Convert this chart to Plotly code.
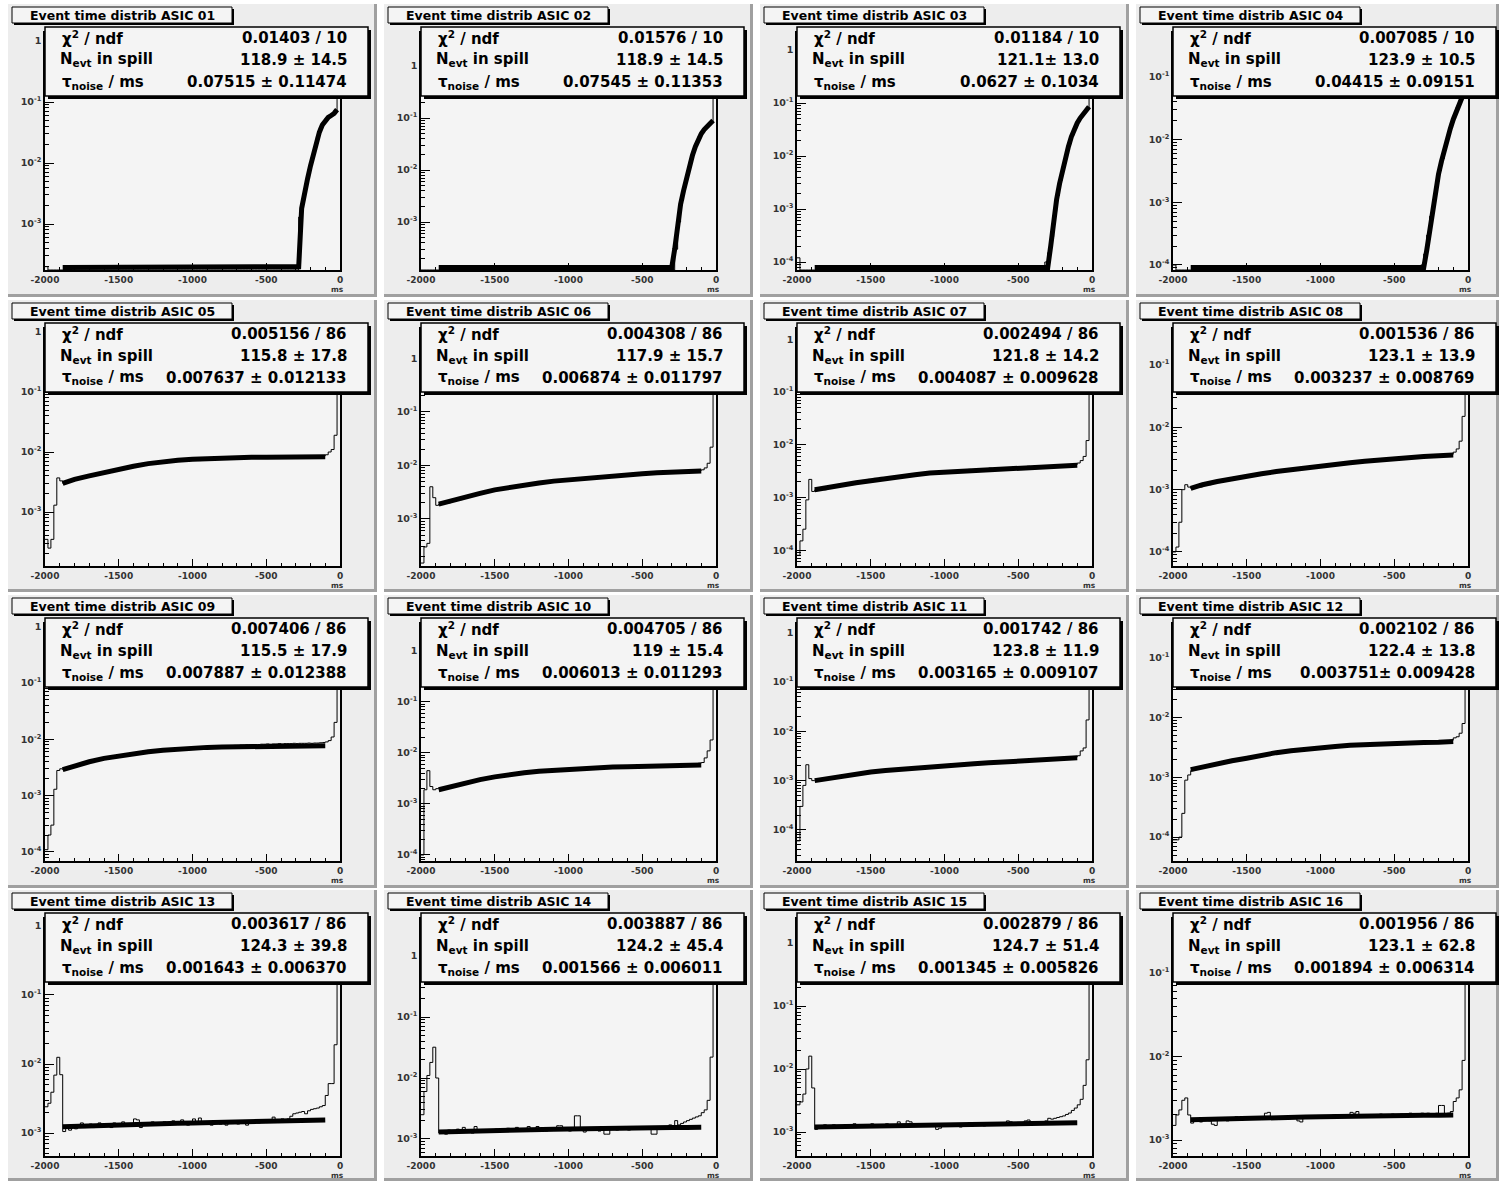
import numpy as np
import plotly.graph_objects as go

W, H = 1499, 1181

# ---------------- data ----------------
TITLES = ["Event time distrib ASIC %02d" % i for i in range(1, 17)]
CHI2_NDF = ["0.01403 / 10", "0.01576 / 10", "0.01184 / 10", "0.007085 / 10",
            "0.005156 / 86", "0.004308 / 86", "0.002494 / 86", "0.001536 / 86",
            "0.007406 / 86", "0.004705 / 86", "0.001742 / 86", "0.002102 / 86",
            "0.003617 / 86", "0.003887 / 86", "0.002879 / 86", "0.001956 / 86"]
N_EVT = ["118.9 ± 14.5", "118.9 ± 14.5", "121.1± 13.0", "123.9 ± 10.5",
         "115.8 ± 17.8", "117.9 ± 15.7", "121.8 ± 14.2", "123.1 ± 13.9",
         "115.5 ± 17.9", "119 ± 15.4", "123.8 ± 11.9", "122.4 ± 13.8",
         "124.3 ± 39.8", "124.2 ± 45.4", "124.7 ± 51.4", "123.1 ± 62.8"]
TAU_NOISE = ["0.07515 ± 0.11474", "0.07545 ± 0.11353", "0.0627 ± 0.1034", "0.04415 ± 0.09151",
             "0.007637 ± 0.012133", "0.006874 ± 0.011797", "0.004087 ± 0.009628", "0.003237 ± 0.008769",
             "0.007887 ± 0.012388", "0.006013 ± 0.011293", "0.003165 ± 0.009107", "0.003751± 0.009428",
             "0.001643 ± 0.006370", "0.001566 ± 0.006011", "0.001345 ± 0.005826", "0.001894 ± 0.006314"]

BIN_LO, BIN_HI, N_BINS = -2000.0, 0.0, 100
X_TICKS = [-2000, -1500, -1000, -500, 0]
X_TICK_LABELS = ["-2000", "-1500", "-1000", "-500", "0"]
X_UNIT = "ms"

# histogram contents per 20 ms bin, in units of 1e-3
H01 = [0.2, 0, 0, 0, 0, 0, 0, 0, 0, 0,
       0, 0, 0, 0, 0, 0, 0, 0, 0, 0,
       0, 0, 0, 0, 0, 0, 0, 0, 0, 0,
       0, 0, 0, 0, 0, 0, 0, 0, 0, 0,
       0, 0, 0, 0, 0, 0, 0, 0, 0, 0,
       0, 0, 0, 0, 0, 0, 0, 0, 0, 0,
       0, 0, 0, 0, 0, 0, 0, 0, 0, 0,
       0, 0, 0, 0, 0, 0, 0, 0, 0, 0,
       0, 0, 0, 0, 0, 0, 1.3, 2.4, 4.5, 6.5,
       11, 17, 27, 38, 46, 54, 58, 62, 70, 600]
H02 = [0, 0, 0, 0, 0, 0, 0, 0, 0, 0,
       0, 0, 0, 0, 0, 0, 0, 0, 0, 0,
       0, 0, 0, 0, 0, 0, 0, 0, 0, 0,
       0, 0, 0, 0, 0, 0, 0, 0, 0, 0,
       0, 0, 0, 0, 0, 0, 0, 0, 0, 0,
       0, 0, 0, 0, 0, 0, 0, 0, 0, 0,
       0, 0, 0, 0, 0, 0, 0, 0, 0, 0,
       0, 0, 0, 0, 0, 0, 0, 0, 0, 0,
       0, 0, 0, 0, 0, 0, 0.3, 1.0, 2.6, 5,
       9, 15, 23, 33, 45, 55, 65, 74, 85, 700]
H03 = [0.12, 0, 0, 0, 0, 0, 0, 0, 0, 0,
       0, 0, 0, 0, 0, 0, 0, 0, 0, 0,
       0, 0, 0, 0, 0, 0, 0, 0, 0, 0,
       0, 0, 0, 0, 0, 0, 0, 0, 0, 0,
       0, 0, 0, 0, 0, 0, 0, 0, 0, 0,
       0, 0, 0, 0, 0, 0, 0, 0, 0, 0,
       0, 0, 0, 0, 0, 0, 0, 0, 0, 0,
       0, 0, 0, 0, 0, 0, 0, 0, 0, 0,
       0, 0, 0, 0, 0.1, 0.15, 0.3, 0.9, 1.8, 3.5,
       6.5, 11, 17, 25, 34, 45, 55, 65, 80, 600]
H04 = [0.1, 0, 0, 0, 0, 0, 0, 0, 0, 0,
       0, 0, 0, 0, 0, 0, 0, 0, 0, 0,
       0, 0, 0, 0, 0, 0, 0, 0, 0, 0,
       0, 0, 0, 0, 0, 0, 0, 0, 0, 0,
       0, 0, 0, 0, 0, 0, 0, 0, 0, 0,
       0, 0, 0, 0, 0, 0, 0, 0, 0, 0,
       0, 0, 0, 0, 0, 0, 0, 0, 0, 0,
       0, 0, 0, 0, 0, 0, 0, 0, 0, 0,
       0, 0, 0, 0, 0.1, 0.15, 0.3, 0.6, 1.1, 1.9,
       3.2, 5, 8, 12, 18, 24, 33, 42, 55, 450]
H05 = [0.35, 0.25, 0.35, 1.3, 3.7, 3.3, 3.0, 3.2, 3.3, 3.5,
       3.4, 3.6, 3.8, 3.7, 3.9, 4.0, 4.1, 4.3, 4.2, 4.5,
       4.6, 4.5, 4.8, 4.9, 5.0, 5.2, 5.1, 5.4, 5.5, 5.6,
       5.7, 5.9, 6.0, 6.1, 6.2, 6.4, 6.3, 6.6, 6.7, 6.8,
       6.8, 7.0, 7.1, 7.2, 7.1, 7.3, 7.4, 7.4, 7.5, 7.6,
       7.5, 7.7, 7.2, 7.8, 7.7, 7.9, 7.8, 8.0, 7.9, 8.0,
       8.1, 8.0, 8.1, 8.0, 8.2, 8.1, 8.2, 8.2, 8.1, 8.3,
       8.2, 8.2, 8.3, 8.2, 8.2, 8.4, 8.3, 8.6, 8.3, 8.2,
       8.5, 8.3, 8.4, 8.6, 8.3, 8.4, 8.5, 8.3, 8.6, 8.4,
       8.7, 8.5, 8.7, 8.4, 8.6, 9.0, 10, 11, 19, 600]
H06 = [0.15, 0.3, 0.35, 4.0, 2.5, 1.8, 1.9, 2.0, 2.1, 2.0,
       2.2, 2.3, 2.4, 2.3, 2.5, 2.6, 2.7, 2.8, 2.8, 2.9,
       3.0, 3.1, 3.2, 3.3, 3.4, 3.4, 3.6, 3.7, 3.7, 3.8,
       3.9, 4.0, 4.1, 4.1, 4.2, 4.3, 4.4, 4.5, 4.5, 4.6,
       4.7, 4.8, 4.9, 5.0, 4.9, 5.1, 5.2, 5.3, 5.2, 5.4,
       5.5, 5.5, 5.6, 5.7, 5.8, 5.7, 5.9, 6.0, 6.0, 6.1,
       6.2, 6.1, 6.3, 6.4, 6.3, 6.5, 6.6, 6.6, 6.7, 6.8,
       6.7, 6.9, 6.9, 7.0, 7.1, 7.0, 7.2, 7.2, 7.3, 7.4,
       7.3, 7.4, 7.5, 7.4, 7.6, 7.5, 7.6, 7.6, 7.7, 7.6,
       7.8, 7.7, 7.8, 7.9, 8.0, 8.3, 9.0, 11, 22, 600]
H07 = [0.08, 0.15, 0.25, 0.9, 2.2, 1.3, 1.4, 1.4, 1.5, 1.4,
       1.5, 1.6, 1.6, 1.6, 1.7, 1.8, 1.7, 1.8, 1.9, 1.9,
       2.0, 2.0, 2.1, 2.1, 2.2, 2.2, 2.3, 2.3, 2.4, 2.3,
       2.4, 2.5, 2.5, 2.6, 2.5, 2.6, 2.7, 2.7, 2.8, 2.7,
       2.8, 2.9, 2.8, 2.9, 3.0, 2.9, 3.0, 3.0, 3.1, 3.0,
       3.1, 3.2, 3.2, 3.1, 3.2, 3.3, 3.2, 3.3, 3.4, 3.3,
       3.4, 3.5, 3.4, 3.5, 3.5, 3.6, 3.5, 3.6, 3.6, 3.7,
       3.6, 3.7, 3.7, 3.8, 3.7, 3.8, 3.8, 3.8, 3.9, 3.8,
       3.9, 3.9, 3.9, 4.0, 3.9, 4.0, 4.0, 4.0, 4.1, 4.0,
       4.1, 4.1, 4.1, 4.2, 4.2, 4.5, 5.0, 6.0, 12, 600]
H08 = [0.1, 0.12, 0.3, 1.0, 1.2, 1.1, 1.05, 1.1, 1.15, 1.1,
       1.2, 1.25, 1.2, 1.3, 1.3, 1.35, 1.4, 1.4, 1.45, 1.5,
       1.45, 1.55, 1.55, 1.6, 1.6, 1.65, 1.7, 1.7, 1.75, 1.8,
       1.8, 1.85, 1.85, 1.9, 1.95, 1.95, 2.0, 2.0, 2.05, 2.1,
       2.1, 2.15, 2.2, 2.2, 2.25, 2.3, 2.3, 2.35, 2.4, 2.4,
       2.45, 2.5, 2.5, 2.55, 2.6, 2.6, 2.65, 2.7, 2.7, 2.75,
       2.8, 2.8, 2.85, 2.9, 2.9, 2.95, 3.0, 3.0, 3.05, 3.05,
       3.1, 3.1, 3.15, 3.2, 3.2, 3.25, 3.25, 3.3, 3.3, 3.35,
       3.35, 3.4, 3.4, 3.45, 3.45, 3.5, 3.5, 3.5, 3.55, 3.55,
       3.6, 3.6, 3.6, 3.65, 3.7, 4.0, 4.5, 6.0, 15, 500]
H09 = [0.11, 0.2, 0.3, 1.3, 2.8, 3.0, 2.9, 3.1, 3.2, 3.4,
       3.5, 3.6, 3.7, 3.8, 4.0, 4.1, 4.2, 4.3, 4.5, 4.6,
       4.7, 4.8, 4.9, 5.0, 5.1, 5.2, 5.3, 5.4, 5.5, 5.6,
       5.6, 5.7, 5.8, 5.9, 6.0, 6.0, 6.1, 6.2, 6.3, 6.3,
       6.4, 6.5, 6.5, 6.6, 6.6, 6.7, 6.8, 6.8, 6.9, 7.0,
       7.0, 7.1, 7.1, 7.2, 7.2, 7.3, 7.3, 7.4, 7.4, 7.5,
       7.5, 7.6, 7.6, 7.7, 7.8, 7.8, 7.9, 7.9, 8.0, 8.0,
       8.1, 8.1, 8.1, 8.2, 8.2, 8.3, 8.2, 8.3, 8.3, 8.4,
       8.3, 8.4, 8.4, 8.4, 8.5, 8.4, 8.5, 8.5, 8.5, 8.6,
       8.5, 8.6, 8.6, 8.7, 8.8, 9.0, 9.5, 11, 20, 600]
H10 = [0.1, 1.9, 4.5, 2.2, 1.9, 2.0, 2.0, 2.0, 2.1, 2.2,
       2.3, 2.3, 2.4, 2.5, 2.6, 2.6, 2.7, 2.8, 2.9, 3.0,
       3.0, 3.1, 3.2, 3.3, 3.3, 3.4, 3.5, 3.5, 3.6, 3.7,
       3.8, 3.8, 3.9, 3.9, 4.0, 4.1, 4.1, 4.2, 4.3, 4.3,
       4.4, 4.4, 4.5, 4.5, 4.6, 4.6, 4.7, 4.7, 4.8, 4.8,
       4.9, 4.9, 5.0, 5.0, 5.0, 5.1, 5.1, 5.2, 5.2, 5.2,
       5.3, 5.3, 5.3, 5.4, 5.4, 5.4, 5.5, 5.5, 5.5, 5.6,
       5.5, 5.6, 5.6, 5.7, 5.6, 5.7, 5.7, 5.7, 5.8, 5.7,
       5.8, 5.8, 5.8, 5.9, 5.8, 5.9, 5.9, 5.9, 6.0, 6.0,
       6.0, 6.1, 6.1, 6.2, 6.3, 6.5, 8.0, 11, 18, 600]
H11 = [0.06, 0.3, 0.8, 2.1, 1.1, 1.0, 1.0, 1.05, 1.1, 1.05,
       1.1, 1.15, 1.1, 1.2, 1.2, 1.25, 1.3, 1.3, 1.35, 1.35,
       1.4, 1.4, 1.45, 1.45, 1.5, 1.5, 1.55, 1.55, 1.6, 1.6,
       1.65, 1.65, 1.65, 1.7, 1.7, 1.75, 1.75, 1.75, 1.8, 1.8,
       1.85, 1.85, 1.85, 1.9, 1.9, 1.95, 1.95, 1.95, 2.0, 2.0,
       2.05, 2.05, 2.05, 2.1, 2.1, 2.15, 2.15, 2.2, 2.2, 2.2,
       2.25, 2.25, 2.3, 2.3, 2.35, 2.35, 2.4, 2.4, 2.4, 2.45,
       2.45, 2.5, 2.5, 2.55, 2.55, 2.6, 2.6, 2.6, 2.65, 2.65,
       2.7, 2.7, 2.7, 2.75, 2.75, 2.8, 2.8, 2.8, 2.85, 2.85,
       2.9, 2.9, 2.9, 2.95, 3.0, 3.2, 4.0, 4.6, 17, 600]
H12 = [0.09, 0.09, 0.1, 0.25, 0.9, 1.1, 1.3, 1.35, 1.4, 1.45,
       1.5, 1.5, 1.55, 1.6, 1.65, 1.7, 1.7, 1.75, 1.8, 1.85,
       1.9, 1.95, 2.0, 2.05, 2.1, 2.15, 2.2, 2.25, 2.3, 2.35,
       2.4, 2.45, 2.5, 2.55, 2.6, 2.6, 2.65, 2.7, 2.75, 2.8,
       2.8, 2.85, 2.9, 2.95, 3.0, 3.0, 3.05, 3.1, 3.15, 3.15,
       3.2, 3.2, 3.25, 3.3, 3.3, 3.35, 3.35, 3.4, 3.4, 3.45,
       3.45, 3.5, 3.5, 3.55, 3.55, 3.6, 3.6, 3.6, 3.65, 3.65,
       3.7, 3.7, 3.7, 3.75, 3.75, 3.8, 3.8, 3.8, 3.85, 3.85,
       3.9, 3.9, 3.9, 3.9, 3.95, 3.95, 4.0, 4.0, 4.0, 4.05,
       4.05, 4.1, 4.1, 4.1, 4.2, 4.6, 4.8, 5.5, 8.0, 500]
H13 = [2.4, 2.7, 3.9, 6.9, 12.5, 7.0, 1.05, 1.2, 1.1, 1.3,
       1.15, 1.25, 1.4, 1.2, 1.3, 1.35, 1.2, 1.3, 1.4, 1.25,
       1.3, 1.35, 1.2, 1.4, 1.3, 1.35, 1.45, 1.3, 1.35, 1.3,
       1.6, 1.55, 1.2, 1.35, 1.4, 1.3, 1.45, 1.35, 1.4, 1.3,
       1.45, 1.35, 1.4, 1.5, 1.35, 1.4, 1.55, 1.4, 1.3, 1.45,
       1.6, 1.4, 1.65, 1.4, 1.35, 1.45, 1.3, 1.4, 1.5, 1.35,
       1.45, 1.3, 1.5, 1.4, 1.45, 1.35, 1.5, 1.45, 1.3, 1.5,
       1.45, 1.55, 1.4, 1.5, 1.55, 1.45, 1.5, 1.7, 1.5, 1.45,
       1.6, 1.5, 1.6, 1.75, 1.9, 1.95, 2.0, 2.05, 1.9, 2.1,
       2.2, 2.25, 2.3, 2.4, 2.5, 3.5, 5.2, 5.2, 19, 600]
H14 = [2.5, 6.0, 11, 18, 32, 10, 1.25, 1.3, 1.2, 1.4,
       1.3, 1.35, 1.45, 1.3, 1.55, 1.35, 1.3, 1.25, 1.6, 1.4,
       1.3, 1.35, 1.4, 1.35, 1.3, 1.45, 1.4, 1.35, 1.45, 1.5,
       1.4, 1.35, 1.55, 1.4, 1.35, 1.45, 1.6, 1.4, 1.35, 1.6,
       1.4, 1.45, 1.35, 1.5, 1.45, 1.4, 1.65, 1.65, 1.4, 1.45,
       1.35, 1.5, 2.4, 2.4, 1.4, 1.3, 1.45, 1.5, 1.4, 1.45,
       1.35, 1.5, 1.2, 1.2, 1.45, 1.5, 1.4, 1.5, 1.45, 1.55,
       1.4, 1.5, 1.55, 1.45, 1.5, 1.6, 1.5, 1.45, 1.2, 1.2,
       1.55, 1.5, 1.55, 1.6, 1.7, 1.65, 2.0, 1.7, 1.8, 1.9,
       2.0, 2.1, 2.2, 2.3, 2.4, 2.7, 3.0, 4.3, 22, 600]
H15 = [2.7, 3.0, 4.0, 10, 16, 5.0, 1.1, 1.2, 1.15, 1.3,
       1.2, 1.25, 1.3, 1.2, 1.25, 1.15, 1.3, 1.25, 1.2, 1.35,
       1.25, 1.2, 1.3, 1.25, 1.2, 1.35, 1.3, 1.25, 1.3, 1.2,
       1.35, 1.3, 1.25, 1.3, 1.45, 1.25, 1.2, 1.5, 1.45, 1.3,
       1.25, 1.35, 1.3, 1.25, 1.35, 1.3, 1.25, 1.1, 1.15, 1.3,
       1.35, 1.3, 1.25, 1.35, 1.3, 1.2, 1.35, 1.3, 1.4, 1.25,
       1.3, 1.35, 1.3, 1.25, 1.4, 1.35, 1.3, 1.35, 1.4, 1.3,
       1.35, 1.5, 1.45, 1.35, 1.3, 1.4, 1.35, 1.5, 1.55, 1.4,
       1.35, 1.45, 1.4, 1.45, 1.5, 1.65, 1.6, 1.65, 1.7, 1.75,
       1.8, 1.9, 2.0, 2.2, 2.4, 2.7, 3.3, 5.5, 14, 600]
H16 = [1.5, 2.0, 2.3, 3.0, 3.2, 2.0, 1.6, 1.7, 1.8, 1.65,
       1.75, 1.85, 1.7, 1.55, 1.5, 1.75, 1.8, 1.85, 1.7, 1.8,
       1.75, 1.9, 1.8, 1.75, 1.85, 1.9, 1.8, 1.85, 1.8, 1.9,
       1.85, 2.1, 2.15, 1.85, 1.8, 1.9, 1.85, 1.9, 1.85, 1.8,
       1.9, 1.85, 1.7, 1.65, 1.9, 1.85, 1.95, 1.9, 1.85, 1.95,
       1.9, 1.85, 1.95, 1.9, 2.0, 1.9, 1.95, 1.9, 1.95, 2.0,
       2.15, 2.1, 2.2, 1.95, 1.9, 1.95, 2.0, 1.95, 2.0, 1.9,
       2.05, 2.0, 1.95, 2.0, 2.05, 2.0, 1.95, 2.05, 2.0, 1.95,
       2.1, 2.0, 2.05, 2.0, 2.1, 2.05, 2.1, 2.0, 2.05, 2.1,
       2.6, 2.6, 2.0, 2.1, 2.2, 2.9, 3.2, 4.0, 9.0, 400]

# fit curves (units of 1e-3), sampled at listed times
FIT_X_SPILL = [-1880, -300, -280, -260, -240, -220, -200, -180, -160, -140, -120, -100, -80, -60, -40, -20]
FIT_X_FLAT = [-1880, -1800, -1700, -1600, -1500, -1400, -1300, -1200, -1100, -1000,
              -900, -800, -700, -600, -500, -400, -300, -200, -100]
F01 = [0.001, 0.001, 0.2, 1.8, 3.5, 5.5, 9, 14, 22, 32, 42, 50, 56, 60, 65, 75]
F02 = [0.001, 0.001, 0.3, 0.9, 2.2, 4, 7, 12, 19, 28, 40, 50, 60, 70, 80, 90]
F03 = [0.001, 0.05, 0.2, 0.7, 1.5, 3, 5.5, 9, 15, 23, 32, 42, 52, 62, 72, 85]
F04 = [0.001, 0.08, 0.17, 0.35, 0.8, 1.5, 2.8, 4.5, 7, 10.5, 15, 21, 28, 38, 48, 62]
F05 = [3.0, 3.5, 4.0, 4.6, 5.2, 5.8, 6.4, 6.9, 7.3, 7.6, 7.8, 8.0, 8.1, 8.2, 8.2, 8.3, 8.3, 8.3, 8.3]
F06 = [1.9, 2.2, 2.6, 3.0, 3.5, 3.9, 4.3, 4.7, 5.1, 5.4, 5.8, 6.1, 6.4, 6.7, 7.0, 7.3, 7.5, 7.7, 7.9]
F07 = [1.4, 1.5, 1.7, 1.9, 2.1, 2.3, 2.5, 2.7, 2.9, 3.0, 3.2, 3.3, 3.5, 3.6, 3.7, 3.8, 3.9, 4.0, 4.1]
F08 = [1.05, 1.2, 1.35, 1.5, 1.65, 1.8, 1.95, 2.1, 2.25, 2.4, 2.55, 2.7, 2.85, 3.0, 3.1, 3.25, 3.4, 3.5, 3.6]
F09 = [2.9, 3.4, 4.0, 4.6, 5.1, 5.6, 6.0, 6.4, 6.7, 7.0, 7.2, 7.3, 7.4, 7.5, 7.6, 7.6, 7.7, 7.7, 7.7]
F10 = [1.9, 2.2, 2.6, 3.0, 3.4, 3.8, 4.1, 4.4, 4.6, 4.8, 5.0, 5.2, 5.3, 5.4, 5.5, 5.6, 5.7, 5.7, 5.8]
F11 = [1.0, 1.1, 1.25, 1.4, 1.5, 1.6, 1.7, 1.8, 1.9, 2.0, 2.1, 2.2, 2.3, 2.4, 2.5, 2.6, 2.7, 2.8, 2.9]
F12 = [1.35, 1.5, 1.7, 1.9, 2.1, 2.35, 2.6, 2.8, 3.0, 3.2, 3.3, 3.45, 3.55, 3.65, 3.7, 3.8, 3.85, 3.9, 4.0]
F13 = [1.23, 1.25, 1.27, 1.29, 1.31, 1.33, 1.35, 1.37, 1.39, 1.40, 1.42, 1.44, 1.46, 1.48, 1.49, 1.51, 1.52, 1.54, 1.55]
F14 = [1.30, 1.32, 1.34, 1.36, 1.38, 1.40, 1.42, 1.43, 1.45, 1.46, 1.48, 1.49, 1.50, 1.51, 1.52, 1.53, 1.54, 1.55, 1.56]
F15 = [1.20, 1.21, 1.22, 1.23, 1.25, 1.26, 1.27, 1.28, 1.29, 1.30, 1.31, 1.32, 1.33, 1.34, 1.35, 1.36, 1.37, 1.38, 1.40]
F16 = [1.75, 1.77, 1.79, 1.81, 1.83, 1.85, 1.86, 1.88, 1.89, 1.90, 1.92, 1.93, 1.94, 1.95, 1.96, 1.97, 1.98, 1.99, 2.00]

HISTS = [H01, H02, H03, H04, H05, H06, H07, H08, H09, H10, H11, H12, H13, H14, H15, H16]
FITS = [F01, F02, F03, F04, F05, F06, F07, F08, F09, F10, F11, F12, F13, F14, F15, F16]
FIT_XS = [FIT_X_SPILL] * 4 + [FIT_X_FLAT] * 12
UNIT_SCALE = 1e-3

# ---------------- layout (pixels) ----------------
Y_LOG_RANGES = [(-3.754, 0.131), (-3.923, 0.635), (-4.151, 0.321), (-4.080, -0.298),
                (-3.900, 0.050), (-3.879, 0.551), (-4.300, 0.195), (-4.225, -0.422),
                (-4.160, 0.048), (-4.118, 0.529), (-4.630, 0.176), (-4.400, -0.430),
                (-3.333, 0.101), (-3.279, 0.607), (-3.381, 0.381), (-3.190, -0.353)]
PAD_L = [8, 384, 760, 1136]
PAD_R = [377, 753, 1129, 1499]
PAD_T = [4, 300, 595, 890]
PAD_B = [297, 592, 888, 1181]
FR_L = [45, 421, 797, 1173]
FR_R = [340, 716, 1092, 1468]
FR_T = [33, 329, 624, 919]
FR_B = [270, 566, 861, 1156]

PAD_FILL = "#ededed"
FRAME_FILL = "#f4f4f4"
BEVEL = "#a0a0a0"
FONT = "DejaVu Sans"


def px(x):
    return x / W


def py(y):
    return 1 - y / H


shapes = []
annotations = []


def rect(x0, y0, x1, y1, fill, line_color=None, line_width=0, layer="above"):
    shapes.append(dict(type="rect", xref="paper", yref="paper",
                       x0=px(x0), x1=px(x1), y0=py(y1), y1=py(y0),
                       fillcolor=fill, layer=layer,
                       line=dict(color=line_color or fill, width=line_width)))


def text(x, y, s, size, xanchor="left", color="black"):
    annotations.append(dict(xref="paper", yref="paper", x=px(x), y=py(y), text=s,
                            showarrow=False, xanchor=xanchor, yanchor="middle",
                            font=dict(family=FONT, size=size, color=color)))


fig = go.Figure()
edges = np.linspace(BIN_LO, BIN_HI, N_BINS + 1)
x_minor = [v for v in range(-1900, 0, 100) if v not in X_TICKS]
layout_axes = {}

for k in range(16):
    r, c = divmod(k, 4)
    n = k + 1
    sfx = "" if n == 1 else str(n)
    lo, hi = Y_LOG_RANGES[k]
    fl, fr, ft, fb = FR_L[c], FR_R[c], FR_T[r], FR_B[r]
    pxdec = (fb - ft) / (hi - lo)

    # pad and frame backgrounds
    rect(PAD_L[c], PAD_T[r], PAD_R[c], PAD_B[r], PAD_FILL, layer="below")
    rect(PAD_L[c], PAD_B[r] - 3, PAD_R[c], PAD_B[r], BEVEL, layer="below")
    rect(PAD_R[c] - 3, PAD_T[r], PAD_R[c], PAD_B[r], BEVEL, layer="below")
    rect(fl, ft, fr, fb, FRAME_FILL, layer="below")

    # histogram (thin step line); empty bins sit on the frame bottom as in ROOT
    h = np.array(HISTS[k], dtype=float) * UNIT_SCALE
    hy = np.maximum(h, 10 ** lo)
    hy = np.append(hy, hy[-1])
    fig.add_trace(go.Scatter(x=edges, y=hy, mode="lines",
                             line=dict(color="black", width=1, shape="hv"),
                             xaxis="x" + sfx, yaxis="y" + sfx,
                             hoverinfo="skip", showlegend=False))
    # fit curve (thick), clipped onto the frame bottom like ROOT
    fy = np.maximum(np.array(FITS[k], dtype=float) * UNIT_SCALE, 10 ** (lo + 2.5 / pxdec))
    fig.add_trace(go.Scatter(x=FIT_XS[k], y=fy, mode="lines",
                             line=dict(color="black", width=5),
                             xaxis="x" + sfx, yaxis="y" + sfx,
                             hoverinfo="skip", showlegend=False))

    decs = list(range(int(np.ceil(lo)), int(np.floor(hi)) + 1))
    yt = [10.0 ** d for d in decs]
    ytt = ["<b>1</b>" if d == 0 else "<b>10<sup>%d</sup></b>" % d for d in decs]
    ymin = []
    for d in range(int(np.floor(lo)), int(np.ceil(hi)) + 1):
        for m in range(2, 10):
            v = m * 10.0 ** d
            if lo <= np.log10(v) <= hi:
                ymin.append(v)

    layout_axes["xaxis" + sfx] = dict(
        domain=[px(fl), px(fr)], anchor="y" + sfx, range=[BIN_LO, BIN_HI],
        showgrid=False, zeroline=False, showline=True, mirror=True,
        linecolor="black", linewidth=1.5, automargin=False,
        ticks="inside", ticklen=7, tickwidth=1, tickcolor="black",
        tickmode="array", tickvals=X_TICKS, ticktext=["<b>%s</b>" % t for t in X_TICK_LABELS],
        tickfont=dict(family=FONT, size=9, color="#333"),
        minor=dict(ticks="inside", ticklen=3.5, tickwidth=1, tickcolor="black",
                   tickmode="array", tickvals=x_minor, showgrid=False),
        fixedrange=True)
    layout_axes["yaxis" + sfx] = dict(
        domain=[py(fb), py(ft)], anchor="x" + sfx, type="log", range=[lo, hi],
        showgrid=False, zeroline=False, showline=True, mirror=True,
        linecolor="black", linewidth=1.5, automargin=False,
        ticks="inside", ticklen=9, tickwidth=1, tickcolor="black",
        tickmode="array", tickvals=yt, ticktext=ytt,
        tickfont=dict(family=FONT, size=9.5, color="#333"),
        minor=dict(ticks="inside", ticklen=4.5, tickwidth=1, tickcolor="black",
                   tickmode="array", tickvals=ymin, showgrid=False),
        fixedrange=True)

    # axis unit
    text(fr - 3, fb + 19, "<b>%s</b>" % X_UNIT, 7.5, xanchor="center", color="#333")

    # title box with shadow
    tl, tr, tt, tb = PAD_L[c] + 4, PAD_L[c] + 224, PAD_T[r] + 3, PAD_T[r] + 19
    rect(tl + 2, tt + 2, tr + 2, tb + 2, "black")
    rect(tl, tt, tr, tb, FRAME_FILL, "black", 1)
    text((tl + tr) / 2, (tt + tb) / 2 + 0.5, "<b>%s</b>" % TITLES[k], 12.5, xanchor="center")

    # stats box with shadow
    sl, sr, st, sb = fl, fl + 323, ft - 6, ft + 63
    rect(sl + 3, st + 3, sr + 3, sb + 3, "black")
    rect(sl, st, sr, sb, FRAME_FILL, "black", 1.5)
    rows = [ft + 5, ft + 27, ft + 49]
    text(fl + 15, rows[0], "<b>χ<sup>2</sup> / ndf</b>", 15)
    text(fl + 13, rows[1], "<b>N<sub>evt</sub> in spill</b>", 15)
    text(fl + 15, rows[2], "<b>τ<sub>noise</sub> / ms</b>", 15)
    text(fl + 304, rows[0], "<b>%s</b>" % CHI2_NDF[k], 15, xanchor="right")
    text(fl + 304, rows[1], "<b>%s</b>" % N_EVT[k], 15, xanchor="right")
    text(fl + 304, rows[2], "<b>%s</b>" % TAU_NOISE[k], 15, xanchor="right")

fig.update_layout(width=W, height=H,
                  margin=dict(l=0, r=0, t=0, b=0, pad=0, autoexpand=False),
                  paper_bgcolor="white", plot_bgcolor="rgba(0,0,0,0)",
                  showlegend=False, shapes=shapes, annotations=annotations,
                  **layout_axes)

fig.write_html("out.html")
